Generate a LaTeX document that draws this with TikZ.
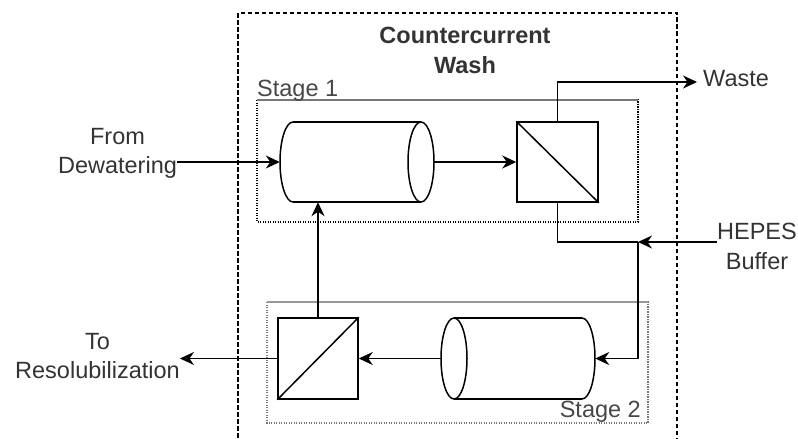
\documentclass[tikz,border=0pt]{standalone}
\usepackage{fontspec}
\setmainfont{Liberation Sans}
\usetikzlibrary{arrows.meta}
\definecolor{txt}{HTML}{333333}
\definecolor{stagegray}{HTML}{777777}
\tikzset{
  lbl/.style={inner sep=0pt, text=txt, font=\fontsize{23.5}{29.5}\selectfont, align=center},
  unit/.style={draw=black, line width=1.5pt, inner sep=0pt},
  ghost/.style={draw=none, inner sep=0pt},
  arr/.style={draw=black, line width=1.5pt, -{Stealth[length=14pt, width=13pt, inset=4.5pt]}},
  flow/.style={draw=black, line width=1.5pt},
  outerbox/.style={draw=black, line width=1.4pt, dash pattern=on 4.5pt off 2.5pt},
  stagebox/.style={line width=1.3pt, dash pattern=on 1.3pt off 1.2pt}
}
\begin{document}
\begin{tikzpicture}[x=1pt, y=-1pt]
\useasboundingbox (0,0) rectangle (798,439);
\begin{scope}
\clip (0,0) rectangle (798,439);
\draw[outerbox] (238,13) rectangle (677,470);
\end{scope}
% stage boxes
\draw[stagebox, draw=black] (257,100) rectangle (638,222);
\draw[stagegray, line width=1.8pt] (257,100) -- (638,100);
\draw[stagebox, draw=stagegray] (267,302) rectangle (648,423);
\draw[black!40, line width=1.5pt] (267,302) -- (648,302);
% labels
\node[lbl, anchor=north, font=\fontsize{23.5}{29.5}\selectfont\bfseries] (title) at (465,27) {Countercurrent\\Wash};
\node[lbl, anchor=base west, text=black!72] (stage1) at (257,96) {Stage 1};
\node[lbl, anchor=base east, text=black!72] (stage2) at (641,417) {Stage 2};
\node[lbl, anchor=north] (fromdew) at (117.5,128) {From\\Dewatering};
\node[lbl, anchor=north] (toresol) at (97.5,333) {To\\Resolubilization};
\node[lbl, anchor=base west] (waste) at (703,86) {Waste};
\node[lbl, anchor=north] (hepes) at (757,223) {HEPES\\Buffer};
\coordinate (wastein) at (697,82);
\coordinate (junction) at (638,242);
% stage 1 units
\node[ghost, minimum width=154pt, minimum height=80pt] (cyl1) at (357,162) {};
\draw[line width=1.5pt] (293,122) -- (421,122) (293,202) -- (421,202);
\draw[line width=1.5pt] (293,122) arc[start angle=90, end angle=270, x radius=13pt, y radius=40pt];
\draw[line width=1.5pt] (421,162) ellipse[x radius=13pt, y radius=40pt];
\node[unit, minimum width=81pt, minimum height=80pt] (flt1) at (557.5,162) {};
\draw[line width=1.5pt] (flt1.north west) -- (flt1.south east);
% stage 2 units
\node[ghost, minimum width=154pt, minimum height=81pt] (cyl2) at (518,358.5) {};
\draw[line width=1.5pt] (454,318) -- (582,318) (454,399) -- (582,399);
\draw[line width=1.5pt] (582,318) arc[start angle=90, end angle=-90, x radius=13pt, y radius=40.5pt];
\draw[line width=1.5pt] (454,358.5) ellipse[x radius=13pt, y radius=40.5pt];
\node[unit, minimum width=80pt, minimum height=81pt] (flt2) at (318,358.5) {};
\draw[line width=1.5pt] (flt2.south west) -- (flt2.north east);
% connectors
\draw[arr] (fromdew.east |- cyl1.west) -- (cyl1.west);
\draw[arr] (cyl1.east) -- (flt1.west);
\draw[arr] (flt1.north) |- (wastein);
\draw[flow] (flt1.south) |- (junction);
\draw[arr] (hepes.west |- junction) -- (junction);
\draw[arr] (junction) |- (cyl2.east);
\draw[arr] (cyl2.west) -- (flt2.east);
\draw[arr] (flt2.north) -- (flt2.north |- cyl1.south);
\draw[arr] (flt2.west) -- (flt2.west -| toresol.east);
\end{tikzpicture}
\end{document}
